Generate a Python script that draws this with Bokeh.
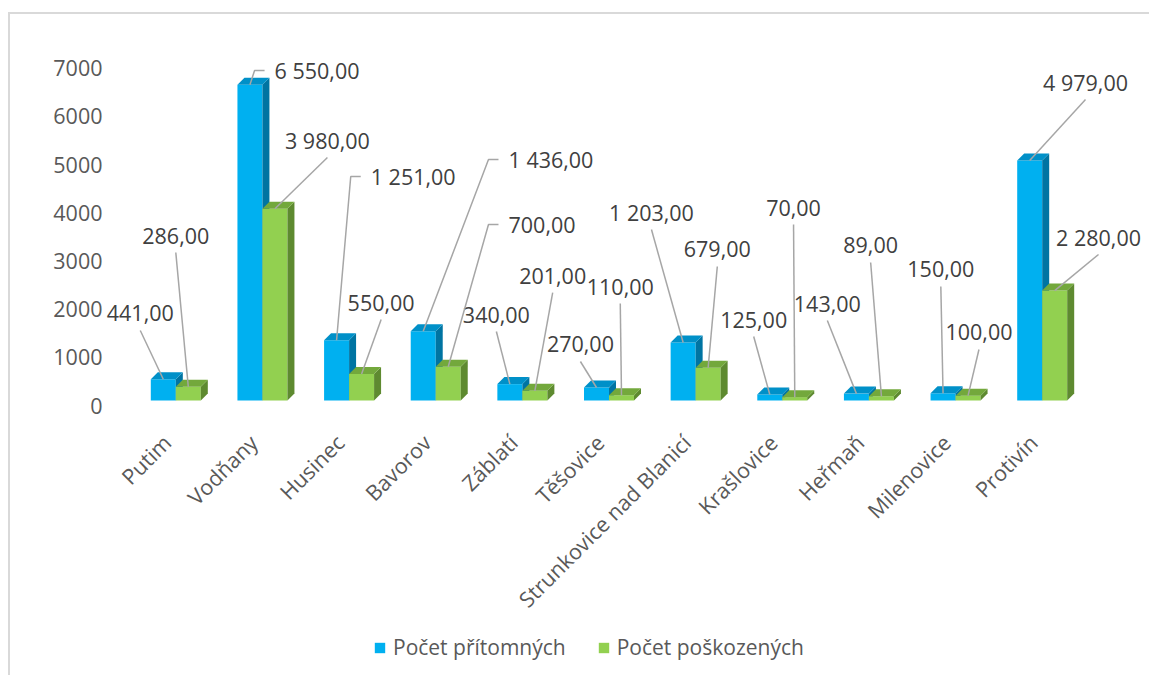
import math
from bokeh.plotting import figure
from bokeh.models import Range1d, LinearAxis, FixedTicker, Legend, LegendItem
from bokeh.core.properties import value
from bokeh.embed import file_html
from bokeh.resources import INLINE

# ---------------- data ----------------
categories = ["Putim", "Vodňany", "Husinec", "Bavorov", "Záblatí", "Těšovice",
              "Strunkovice nad Blanicí", "Krašlovice", "Heřmaň", "Milenovice", "Protivín"]
pritomnych = [441, 6550, 1251, 1436, 340, 270, 1203, 125, 143, 150, 4979]
poskozenych = [286, 3980, 550, 700, 201, 110, 679, 70, 89, 100, 2280]
series_names = ["Počet přítomných", "Počet poškozených"]
y_ticks = [0, 1000, 2000, 3000, 4000, 5000, 6000, 7000]

# data-label anchors: offset from category (in category units) and value height
blue_label_dx = [-0.41, 0.14, 0.25, 0.84, -0.30, -0.33, -0.51, -0.33, -0.48, -0.17, 0.50]
blue_label_y = [1805, 6846, 4647, 5000, 1784, 1162, 3900, 1680, 2012, 2718, 6598]
blue_label_elbow = [False, True, True, True, False, False, False, False, False, False, False]
green_label_dx = [0.0, 0.75, 0.37, 0.84, 0.35, 0.13, 0.25, 0.13, 0.02, 0.27, 0.65]
green_label_y = [3423, 5394, 2033, 3651, 2593, 2365, 3133, 4004, 3216, 1411, 3382]
green_label_elbow = [False, False, False, True, False, False, False, False, False, False, False]

# ---------------- geometry / style ----------------
W, H = 1141, 663
FL, FT, FR, FB = 94, 26, 3, 0
frame_w = W - FL - FR
frame_h = H - FT - FB
n = len(categories)
px_x = 86.64                  # px per category
cat0_px = 165.3               # pixel position of first category (figure coords)
px_y = 0.0482                 # px per value unit
floor_px = 386                # pixel row of value 0 (figure coords)
x0 = (FL - cat0_px) / px_x
x1 = x0 + frame_w / px_x
y0 = -(H - FB - floor_px) / px_y
y1 = (floor_px - FT) / px_y
AX_SHIFT = 5 / px_y           # value labels sit a little below the bar floor

BW = 25 / px_x
DX = 7 / px_x
DY = 7 / px_y

BLUE = ["#00B0F0", "#0074A2", "#0090C8"]
GREEN = ["#92D050", "#5E8A30", "#73A83C"]
FONT = "Open Sans"
FS = "21.5px"

p = figure(width=W, height=H, output_backend="svg", toolbar_location=None,
           x_range=Range1d(x0, x1), y_range=Range1d(y0, y1),
           y_axis_location=None, min_border_left=FL, min_border_right=FR,
           min_border_top=FT, min_border_bottom=FB)
p.styles = {"margin-left": "8px", "margin-top": "12px",
            "border-left": "2px solid #d9d9d9", "border-top": "2px solid #d9d9d9"}
p.outline_line_color = None
p.grid.visible = False
p.background_fill_color = "white"
p.border_fill_color = "white"

p.extra_y_ranges = {"ax": Range1d(y0 + AX_SHIFT, y1 + AX_SHIFT)}
p.extra_x_ranges = {"ax": Range1d(x0 + 9 / px_x, x1 + 9 / px_x)}

yax = LinearAxis(y_range_name="ax", ticker=FixedTicker(ticks=y_ticks))
yax.axis_line_color = None
yax.major_tick_line_color = None
yax.minor_tick_line_color = None
yax.major_tick_out = 0
yax.major_label_standoff = 2
yax.major_label_text_font = FONT
yax.major_label_text_font_size = FS
yax.major_label_text_color = "#595959"
p.add_layout(yax, "left")

xax = p.xaxis[0]
xax.x_range_name = "ax"
xax.y_range_name = "ax"
xax.fixed_location = 0
xax.ticker = FixedTicker(ticks=list(range(n)))
xax.major_label_overrides = {i: c for i, c in enumerate(categories)}
xax.major_label_orientation = math.pi / 4
xax.axis_line_color = None
xax.major_tick_line_color = None
xax.minor_tick_line_color = None
xax.major_tick_out = 0
xax.major_label_standoff = 33
xax.major_label_text_font = FONT
xax.major_label_text_font_size = FS
xax.major_label_text_color = "#595959"


def bars3d(vals, offset, colors):
    lefts = [i + offset for i in range(n)]
    rights = [l + BW for l in lefts]
    front = p.quad(left=lefts, right=rights, bottom=[0] * n, top=vals,
                   fill_color=colors[0], line_color=None)
    side_xs = [[r, r + DX, r + DX, r] for r in rights]
    side_ys = [[0, DY, v + DY, v] for v in vals]
    p.patches(side_xs, side_ys, fill_color=colors[1], line_color=None)
    top_xs = [[l, l + DX, r + DX, r] for l, r in zip(lefts, rights)]
    top_ys = [[v, v + DY, v + DY, v] for v in vals]
    p.patches(top_xs, top_ys, fill_color=colors[2], line_color=None)
    return front


r_blue = bars3d(pritomnych, -BW, BLUE)
r_green = bars3d(poskozenych, 0.0, GREEN)


def fmt(v):
    s = f"{v:,.2f}"
    return s.replace(",", " ").replace(".", ",")


def labels(vals, dxs, ys, elbows, bar_off):
    lx, ly = [], []
    c_x, c_y, c_t = [], [], []
    l_x, l_y, l_t = [], [], []
    for i, (v, dx, y, el) in enumerate(zip(vals, dxs, ys, elbows)):
        bx = i + bar_off
        tx = i + dx
        if el:
            l_x.append(tx); l_y.append(y); l_t.append(fmt(v))
            lx.append([tx - 10 / px_x, tx - 20 / px_x, bx])
            ly.append([y, y, v])
        else:
            c_x.append(tx); c_y.append(y); c_t.append(fmt(v))
            lx.append([tx, bx])
            ly.append([y - 17 / px_y, v])
    p.multi_line(lx, ly, line_color="#A6A6A6", line_width=1.5)
    if c_x:
        p.text(c_x, c_y, text=c_t, text_font=value(FONT), text_font_size=FS,
               text_color="#404040", text_align="center", text_baseline="middle")
    if l_x:
        p.text(l_x, l_y, text=l_t, text_font=value(FONT), text_font_size=FS,
               text_color="#404040", text_align="left", text_baseline="middle")


labels(pritomnych, blue_label_dx, blue_label_y, blue_label_elbow, -BW / 2)
labels(poskozenych, green_label_dx, green_label_y, green_label_elbow, BW / 2)

legend = Legend(items=[LegendItem(label=series_names[0], renderers=[r_blue]),
                       LegendItem(label=series_names[1], renderers=[r_green])],
                orientation="horizontal", location=(269, 16))
legend.glyph_width = 13
legend.glyph_height = 13
legend.label_standoff = 7
legend.spacing = 31
legend.padding = 0
legend.margin = 0
legend.border_line_color = None
legend.background_fill_alpha = 0
legend.label_text_font = FONT
legend.label_text_font_size = "21px"
legend.label_text_color = "#595959"
legend.label_height = 20
p.add_layout(legend, "center")

open("out.html", "w").write(file_html(p, INLINE))
